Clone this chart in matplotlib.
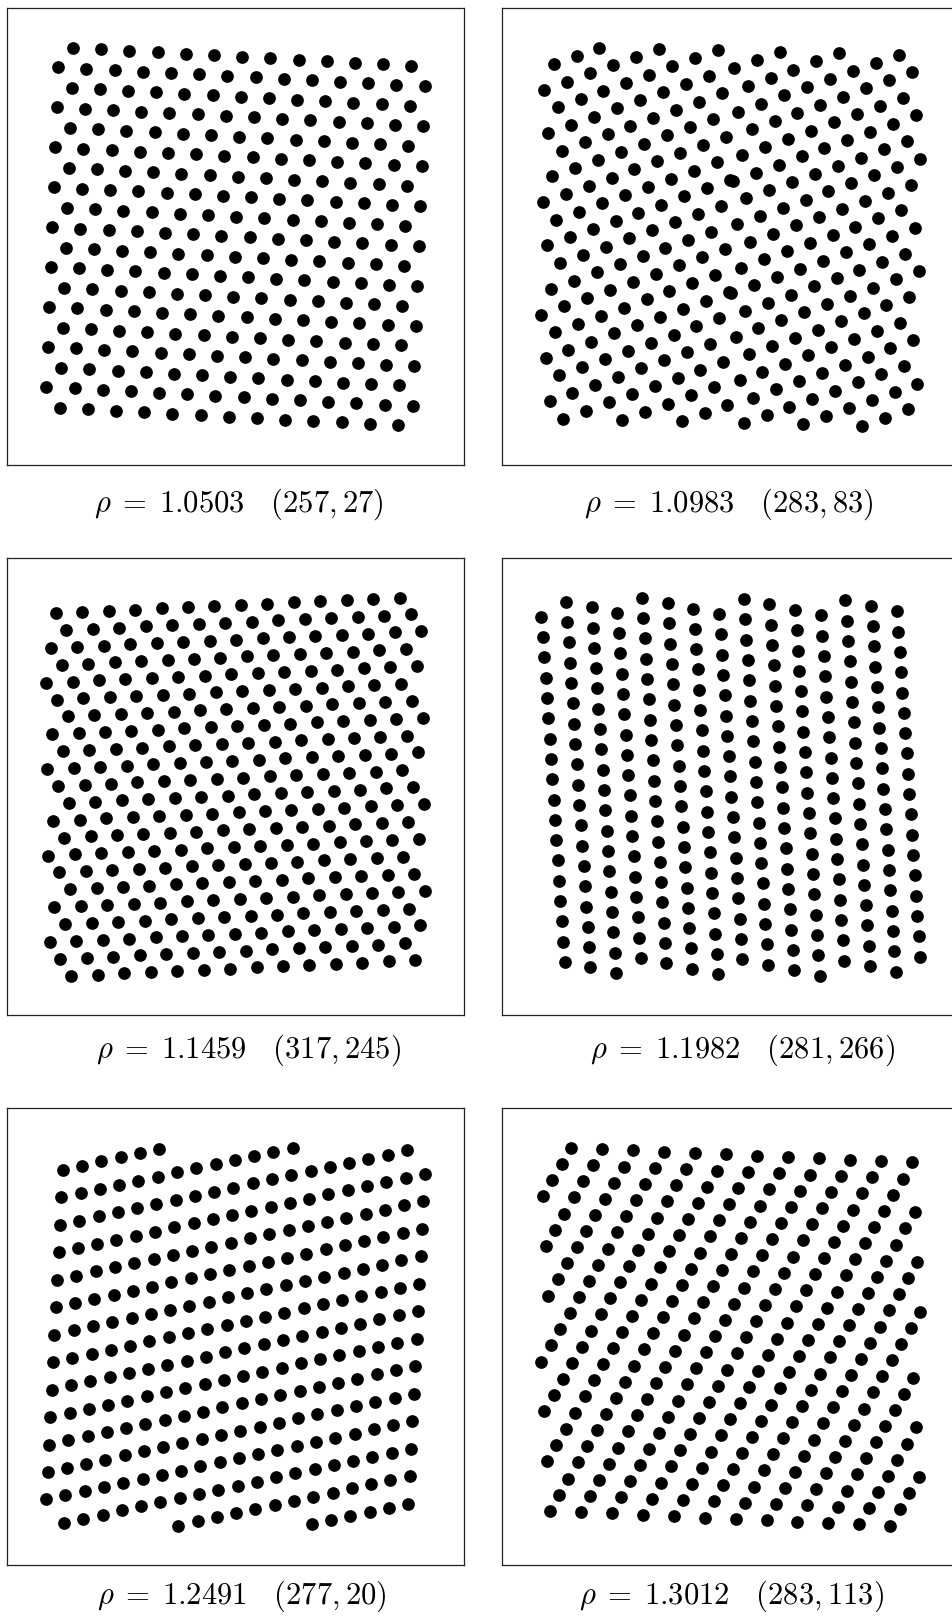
import numpy as np
import matplotlib
matplotlib.use("Agg")
import matplotlib.pyplot as plt

plt.rcParams["mathtext.fontset"] = "cm"

# lattice point sets: (k/N mod 1, {k g / N}) for k = -(N-1)/2 .. (N-1)/2, k != 0
n_points = [257, 283, 317, 281, 277, 283]
generators = [27, 83.593, 245, 266, 20, 123]
rho_text = ["1.0503", "1.0983", "1.1459", "1.1982", "1.2491", "1.3012"]
label_n = [257, 283, 317, 281, 277, 283]
label_g = [27, 83, 245, 266, 20, 113]

W, H = 952, 1619
fig = plt.figure(figsize=(W / 100, H / 100), dpi=100)

col_left = [6.7, 502.0]
row_top = [8.3, 558.3, 1108.3]
box_w, box_h = 457.6, 456.7
label_cx = [238.5, 728.5, 249.0, 743.0, 241.5, 732.0]
label_base = [511.7, 1057.7, 1603.3]

for i in range(6):
    r, c = divmod(i, 2)
    x0, y0 = col_left[c], row_top[r]
    ax = fig.add_axes([x0 / W, 1 - (y0 + box_h) / H, box_w / W, box_h / H])
    N, g = n_points[i], generators[i]
    half = (N - 1) // 2
    k = np.arange(-half, half + 1)
    k = k[k != 0]
    x = np.mod(k, N) / N
    y = np.mod(k * g, N) / N
    ax.scatter(x, y, s=84, c="black", linewidths=0)
    ax.set_xlim(-0.1, 1.1)
    ax.set_ylim(-0.1, 1.1)
    ax.set_xticks([])
    ax.set_yticks([])
    for sp in ax.spines.values():
        sp.set_linewidth(0.9)
        sp.set_color("#222222")
    fig.text(label_cx[i] / W, 1 - label_base[r] / H,
             r"$\rho\;=\;%s\quad(%d, %d)$" % (rho_text[i], label_n[i], label_g[i]),
             ha="center", va="baseline", fontsize=22)

fig.savefig("out.png", dpi=100)
